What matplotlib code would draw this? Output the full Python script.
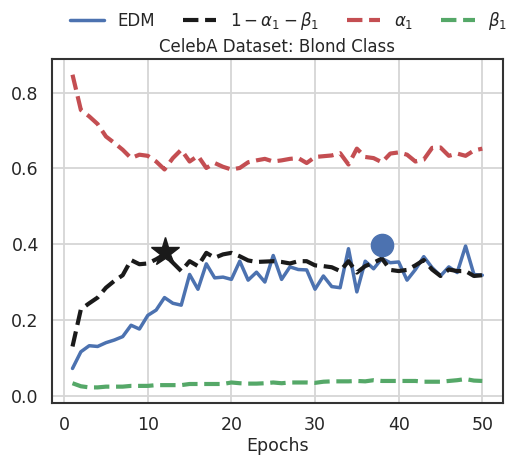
import numpy as np
import matplotlib
matplotlib.use('Agg')
import matplotlib.pyplot as plt
import seaborn as sns

sns.set_theme(style='whitegrid')
plt.rcParams['font.family'] = ['DejaVu Sans']

# valori
epochs = list(range(1, 51))

edm = [0.072, 0.116, 0.132, 0.130, 0.140, 0.147, 0.156, 0.186, 0.176, 0.212,
       0.226, 0.259, 0.244, 0.239, 0.320, 0.281, 0.348, 0.311, 0.313, 0.307,
       0.355, 0.305, 0.326, 0.300, 0.370, 0.307, 0.340, 0.333, 0.332, 0.281,
       0.316, 0.288, 0.285, 0.388, 0.274, 0.355, 0.335, 0.362, 0.351, 0.353,
       0.305, 0.333, 0.367, 0.338, 0.316, 0.340, 0.325, 0.395, 0.320, 0.318]

one_minus = [0.130, 0.228, 0.244, 0.259, 0.285, 0.303, 0.318, 0.358, 0.347, 0.349,
             0.360, 0.373, 0.351, 0.329, 0.355, 0.342, 0.377, 0.364, 0.373, 0.377,
             0.368, 0.357, 0.353, 0.354, 0.355, 0.353, 0.349, 0.355, 0.355, 0.344,
             0.342, 0.339, 0.329, 0.355, 0.325, 0.342, 0.351, 0.362, 0.332, 0.329,
             0.332, 0.344, 0.358, 0.333, 0.316, 0.333, 0.329, 0.329, 0.316, 0.318]

alpha1 = [0.847, 0.754, 0.737, 0.717, 0.684, 0.667, 0.649, 0.627, 0.636, 0.633,
          0.618, 0.597, 0.627, 0.649, 0.618, 0.633, 0.601, 0.614, 0.604, 0.597,
          0.601, 0.616, 0.621, 0.625, 0.618, 0.621, 0.625, 0.627, 0.614, 0.630,
          0.632, 0.634, 0.640, 0.610, 0.652, 0.630, 0.627, 0.616, 0.639, 0.642,
          0.636, 0.618, 0.623, 0.654, 0.655, 0.633, 0.639, 0.633, 0.647, 0.652]

beta1 = [0.033, 0.025, 0.022, 0.022, 0.024, 0.024, 0.024, 0.026, 0.026, 0.026,
         0.028, 0.028, 0.028, 0.028, 0.031, 0.031, 0.031, 0.031, 0.031, 0.035,
         0.033, 0.032, 0.032, 0.033, 0.035, 0.033, 0.035, 0.035, 0.035, 0.034,
         0.037, 0.038, 0.038, 0.038, 0.039, 0.038, 0.041, 0.039, 0.039, 0.039,
         0.039, 0.039, 0.037, 0.037, 0.037, 0.039, 0.041, 0.044, 0.040, 0.039]

star_point = (12, 0.380)
dot_point = (38, 0.397)

fig = plt.figure(figsize=(5.12, 4.58), dpi=100)
ax = fig.add_axes([0.1016, 0.120, 0.8804, 0.751])

ax.plot(epochs, edm, color='#4C72B0', lw=2.5, label='EDM')
ax.plot(epochs, one_minus, color='#1a1a1a', lw=3, ls='--', label=r'$1-\alpha_1-\beta_1$')
ax.plot(epochs, alpha1, color='#C44E52', lw=3, ls='--', label=r'$\alpha_1$')
ax.plot(epochs, beta1, color='#55A868', lw=3, ls='--', label=r'$\beta_1$')

ax.plot(*star_point, marker='*', color='#1a1a1a', markersize=21, ls='none')
ax.plot(*dot_point, marker='o', color='#4C72B0', markersize=16, ls='none')

ax.set_yticks([0.0, 0.2, 0.4, 0.6, 0.8])
ax.set_xticks([0, 10, 20, 30, 40, 50])
ax.tick_params(labelsize=12.5)
ax.set_xlabel('Epochs', fontsize=12.5, labelpad=2)
ax.set_title('CelebA Dataset: Blond Class', fontsize=12, pad=5)

for s in ax.spines.values():
    s.set_edgecolor('0.2')
    s.set_linewidth(1.5)
ax.grid(color='0.84', lw=1.3)

ax.legend(loc='lower center', bbox_to_anchor=(0.525, 1.06), ncol=4, frameon=False,
          fontsize=12, handlelength=2, columnspacing=1.7, borderaxespad=0)

fig.savefig('out.png', dpi=100)
